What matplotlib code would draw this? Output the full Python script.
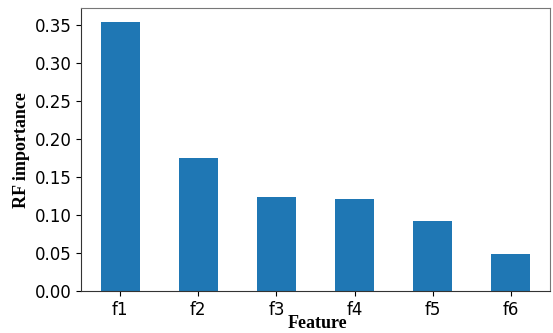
import matplotlib
matplotlib.use("Agg")
import matplotlib.pyplot as plt

features = ["f1", "f2", "f3", "f4", "f5", "f6"]
importance = [0.3546, 0.1757, 0.1235, 0.1217, 0.0919, 0.0484]
yticks = [0.00, 0.05, 0.10, 0.15, 0.20, 0.25, 0.30, 0.35]

W, H = 553, 333
fig = plt.figure(figsize=(W / 100, H / 100), dpi=100)
ax = fig.add_axes([0.1465, 0.126, 0.848, 0.8485])

x = list(range(len(features)))
ax.bar(x, importance, width=0.5, color="#1f77b4")
ax.set_xlim(-0.5, len(features) - 0.5)
ax.set_ylim(0, max(importance) * 1.05)
ax.set_xticks(x)
ax.set_xticklabels(features, fontsize=12)
ax.set_yticks(yticks)
ax.set_yticklabels([f"{v:.2f}" for v in yticks], fontsize=12)

for side in ["left", "bottom"]:
    ax.spines[side].set_color("#333333")
for side in ["top", "right"]:
    ax.spines[side].set_color("#777777")

label_font = dict(fontsize=13, fontweight="bold", family="Liberation Serif")
fig.text(21.5 / W, 1 - 150 / H, "RF importance", rotation=90,
         ha="center", va="center", **label_font)
fig.text(317 / W, 1 - 324 / H, "Feature", ha="center", va="center",
         **label_font)

fig.savefig("out.png", dpi=100)
